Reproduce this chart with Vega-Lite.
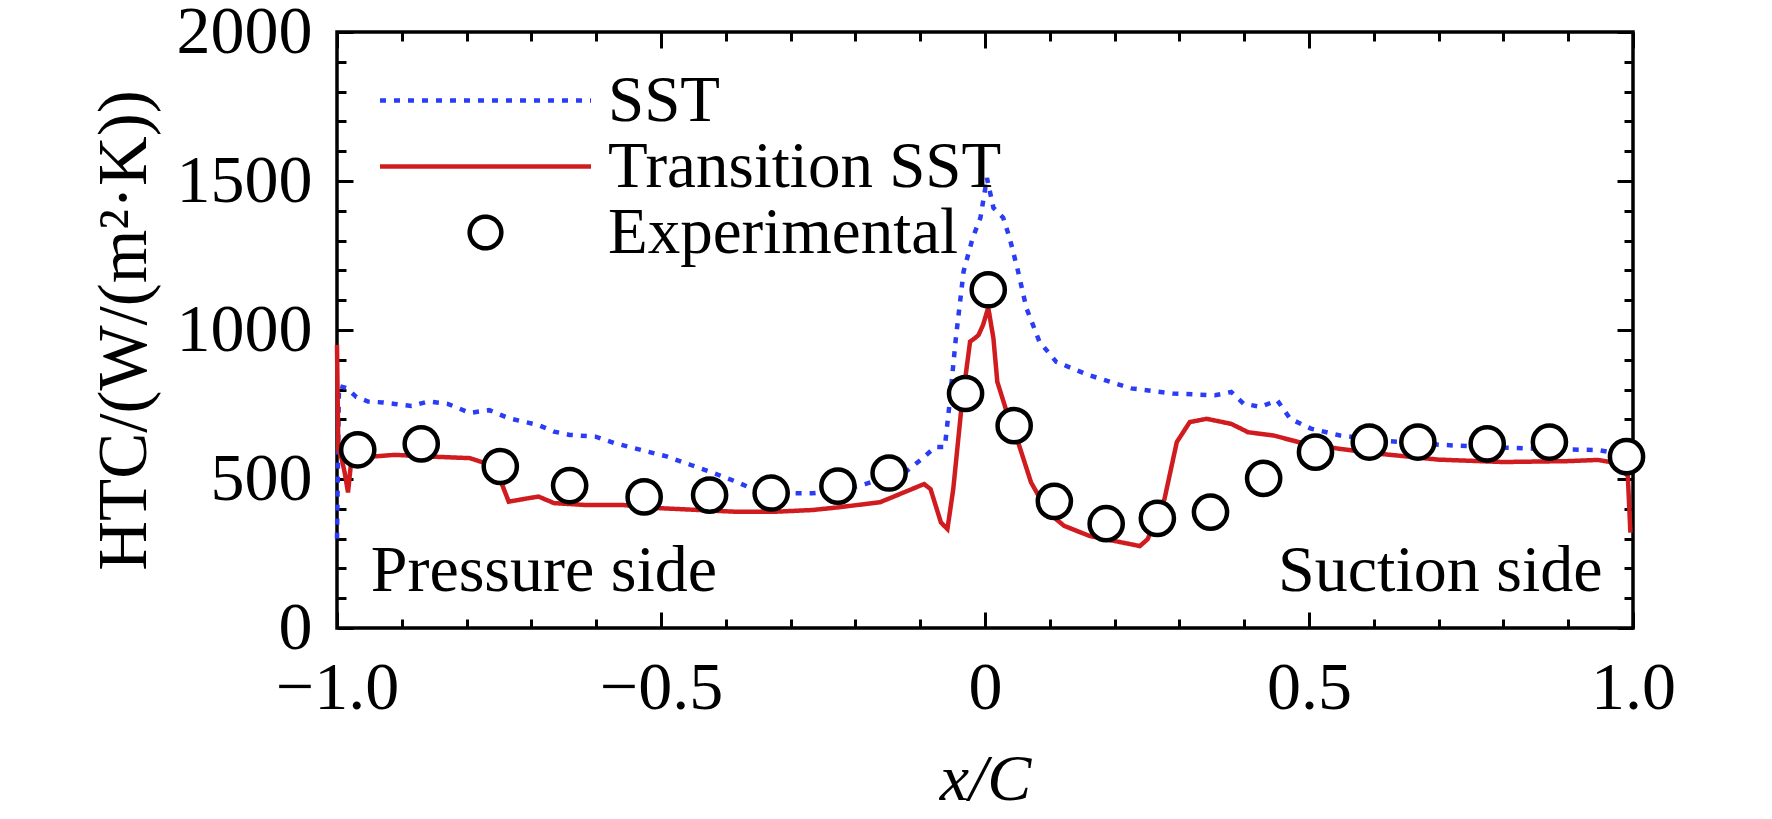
{
  "$schema": "https://vega.github.io/schema/vega-lite/v6.json",
  "width": 1296,
  "height": 596,
  "autosize": {"type": "none"},
  "padding": {"left": 337, "top": 32, "right": 139, "bottom": 191},
  "background": "white",
  "datasets": {
    "curves": [
      {"series": "SST", "xc": -1.0, "htc": 300},
      {"series": "SST", "xc": -0.997, "htc": 812},
      {"series": "SST", "xc": -0.985, "htc": 805},
      {"series": "SST", "xc": -0.97, "htc": 775},
      {"series": "SST", "xc": -0.952, "htc": 760},
      {"series": "SST", "xc": -0.93, "htc": 757},
      {"series": "SST", "xc": -0.911, "htc": 752},
      {"series": "SST", "xc": -0.885, "htc": 745},
      {"series": "SST", "xc": -0.859, "htc": 760},
      {"series": "SST", "xc": -0.829, "htc": 752},
      {"series": "SST", "xc": -0.795, "htc": 722},
      {"series": "SST", "xc": -0.765, "htc": 731},
      {"series": "SST", "xc": -0.735, "htc": 704},
      {"series": "SST", "xc": -0.689, "htc": 681},
      {"series": "SST", "xc": -0.665, "htc": 659},
      {"series": "SST", "xc": -0.641, "htc": 648},
      {"series": "SST", "xc": -0.601, "htc": 642},
      {"series": "SST", "xc": -0.571, "htc": 620},
      {"series": "SST", "xc": -0.53, "htc": 597},
      {"series": "SST", "xc": -0.49, "htc": 575},
      {"series": "SST", "xc": -0.454, "htc": 547},
      {"series": "SST", "xc": -0.425, "htc": 525},
      {"series": "SST", "xc": -0.384, "htc": 491},
      {"series": "SST", "xc": -0.355, "htc": 463},
      {"series": "SST", "xc": -0.313, "htc": 452},
      {"series": "SST", "xc": -0.266, "htc": 452},
      {"series": "SST", "xc": -0.22, "htc": 463},
      {"series": "SST", "xc": -0.185, "htc": 483},
      {"series": "SST", "xc": -0.16, "htc": 500},
      {"series": "SST", "xc": -0.13, "htc": 511},
      {"series": "SST", "xc": -0.097, "htc": 568},
      {"series": "SST", "xc": -0.077, "htc": 607},
      {"series": "SST", "xc": -0.062, "htc": 607},
      {"series": "SST", "xc": -0.055, "htc": 747},
      {"series": "SST", "xc": -0.045, "htc": 972},
      {"series": "SST", "xc": -0.033, "htc": 1197},
      {"series": "SST", "xc": -0.019, "htc": 1309},
      {"series": "SST", "xc": -0.007, "htc": 1377},
      {"series": "SST", "xc": 0.003, "htc": 1510},
      {"series": "SST", "xc": 0.013, "htc": 1410},
      {"series": "SST", "xc": 0.028, "htc": 1377},
      {"series": "SST", "xc": 0.038, "htc": 1309},
      {"series": "SST", "xc": 0.051, "htc": 1197},
      {"series": "SST", "xc": 0.064, "htc": 1073},
      {"series": "SST", "xc": 0.084, "htc": 961},
      {"series": "SST", "xc": 0.11, "htc": 893},
      {"series": "SST", "xc": 0.161, "htc": 848},
      {"series": "SST", "xc": 0.226, "htc": 804},
      {"series": "SST", "xc": 0.29, "htc": 787},
      {"series": "SST", "xc": 0.355, "htc": 781},
      {"series": "SST", "xc": 0.38, "htc": 792},
      {"series": "SST", "xc": 0.399, "htc": 753},
      {"series": "SST", "xc": 0.425, "htc": 742},
      {"series": "SST", "xc": 0.451, "htc": 764},
      {"series": "SST", "xc": 0.471, "htc": 702},
      {"series": "SST", "xc": 0.503, "htc": 669},
      {"series": "SST", "xc": 0.548, "htc": 646},
      {"series": "SST", "xc": 0.612, "htc": 629},
      {"series": "SST", "xc": 0.7, "htc": 615},
      {"series": "SST", "xc": 0.8, "htc": 605},
      {"series": "SST", "xc": 0.9, "htc": 599},
      {"series": "SST", "xc": 0.946, "htc": 597},
      {"series": "SST", "xc": 0.99, "htc": 581},
      {"series": "Transition SST", "xc": -1.0, "htc": 950},
      {"series": "Transition SST", "xc": -0.998, "htc": 600},
      {"series": "Transition SST", "xc": -0.993, "htc": 570},
      {"series": "Transition SST", "xc": -0.988, "htc": 520},
      {"series": "Transition SST", "xc": -0.983, "htc": 455},
      {"series": "Transition SST", "xc": -0.979, "htc": 540},
      {"series": "Transition SST", "xc": -0.975, "htc": 575},
      {"series": "Transition SST", "xc": -0.947, "htc": 575},
      {"series": "Transition SST", "xc": -0.911, "htc": 581},
      {"series": "Transition SST", "xc": -0.853, "htc": 575},
      {"series": "Transition SST", "xc": -0.795, "htc": 570},
      {"series": "Transition SST", "xc": -0.771, "htc": 553},
      {"series": "Transition SST", "xc": -0.75, "htc": 508},
      {"series": "Transition SST", "xc": -0.735, "htc": 424},
      {"series": "Transition SST", "xc": -0.706, "htc": 435},
      {"series": "Transition SST", "xc": -0.689, "htc": 441},
      {"series": "Transition SST", "xc": -0.665, "htc": 419},
      {"series": "Transition SST", "xc": -0.618, "htc": 413},
      {"series": "Transition SST", "xc": -0.56, "htc": 413},
      {"series": "Transition SST", "xc": -0.501, "htc": 402},
      {"series": "Transition SST", "xc": -0.442, "htc": 396},
      {"series": "Transition SST", "xc": -0.384, "htc": 390},
      {"series": "Transition SST", "xc": -0.325, "htc": 390},
      {"series": "Transition SST", "xc": -0.266, "htc": 396},
      {"series": "Transition SST", "xc": -0.226, "htc": 405},
      {"series": "Transition SST", "xc": -0.162, "htc": 422},
      {"series": "Transition SST", "xc": -0.094, "htc": 483},
      {"series": "Transition SST", "xc": -0.084, "htc": 466},
      {"series": "Transition SST", "xc": -0.068, "htc": 354},
      {"series": "Transition SST", "xc": -0.058, "htc": 332},
      {"series": "Transition SST", "xc": -0.049, "htc": 466},
      {"series": "Transition SST", "xc": -0.036, "htc": 747},
      {"series": "Transition SST", "xc": -0.023, "htc": 961},
      {"series": "Transition SST", "xc": -0.016, "htc": 972},
      {"series": "Transition SST", "xc": -0.01, "htc": 983},
      {"series": "Transition SST", "xc": -0.003, "htc": 1017},
      {"series": "Transition SST", "xc": 0.005, "htc": 1075},
      {"series": "Transition SST", "xc": 0.013, "htc": 972},
      {"series": "Transition SST", "xc": 0.019, "htc": 826},
      {"series": "Transition SST", "xc": 0.032, "htc": 736},
      {"series": "Transition SST", "xc": 0.051, "htc": 624},
      {"series": "Transition SST", "xc": 0.071, "htc": 489},
      {"series": "Transition SST", "xc": 0.097, "htc": 388},
      {"series": "Transition SST", "xc": 0.122, "htc": 343},
      {"series": "Transition SST", "xc": 0.161, "htc": 309},
      {"series": "Transition SST", "xc": 0.2, "htc": 292},
      {"series": "Transition SST", "xc": 0.239, "htc": 275},
      {"series": "Transition SST", "xc": 0.251, "htc": 298},
      {"series": "Transition SST", "xc": 0.277, "htc": 433},
      {"series": "Transition SST", "xc": 0.296, "htc": 624},
      {"series": "Transition SST", "xc": 0.316, "htc": 691},
      {"series": "Transition SST", "xc": 0.342, "htc": 702},
      {"series": "Transition SST", "xc": 0.38, "htc": 685},
      {"series": "Transition SST", "xc": 0.406, "htc": 657},
      {"series": "Transition SST", "xc": 0.445, "htc": 646},
      {"series": "Transition SST", "xc": 0.484, "htc": 624},
      {"series": "Transition SST", "xc": 0.548, "htc": 601},
      {"series": "Transition SST", "xc": 0.612, "htc": 584},
      {"series": "Transition SST", "xc": 0.7, "htc": 565},
      {"series": "Transition SST", "xc": 0.8, "htc": 557},
      {"series": "Transition SST", "xc": 0.9, "htc": 560},
      {"series": "Transition SST", "xc": 0.946, "htc": 564},
      {"series": "Transition SST", "xc": 0.97, "htc": 555},
      {"series": "Transition SST", "xc": 0.992, "htc": 511},
      {"series": "Transition SST", "xc": 0.996, "htc": 320}
    ],
    "experiment": [
      {"xc": -0.968, "htc": 598},
      {"xc": -0.87, "htc": 618},
      {"xc": -0.748, "htc": 542},
      {"xc": -0.641, "htc": 478},
      {"xc": -0.526, "htc": 440},
      {"xc": -0.425, "htc": 446},
      {"xc": -0.33, "htc": 453},
      {"xc": -0.227, "htc": 476},
      {"xc": -0.148, "htc": 520},
      {"xc": -0.03, "htc": 787},
      {"xc": 0.005, "htc": 1135},
      {"xc": 0.045, "htc": 679},
      {"xc": 0.107, "htc": 425},
      {"xc": 0.187, "htc": 350},
      {"xc": 0.266, "htc": 368},
      {"xc": 0.348, "htc": 389},
      {"xc": 0.43, "htc": 502},
      {"xc": 0.51, "htc": 590},
      {"xc": 0.593, "htc": 624},
      {"xc": 0.668, "htc": 624},
      {"xc": 0.775, "htc": 618},
      {"xc": 0.871, "htc": 624},
      {"xc": 0.99, "htc": 575}
    ]
  },
  "config": {
    "view": {"stroke": "black", "strokeWidth": 3.5},
    "font": "Liberation Serif",
    "axis": {
      "grid": false,
      "domain": false,
      "labelFont": "Liberation Serif",
      "titleFont": "Liberation Serif",
      "labelColor": "black",
      "titleColor": "black",
      "tickColor": "black",
      "tickWidth": 3,
      "labelFontSize": 68,
      "titleFontSize": 69,
      "titleFontWeight": "normal",
      "labelOverlap": false,
      "labelFlush": false,
      "labelBound": false
    }
  },
  "resolve": {"axis": {"x": "independent", "y": "independent"}},
  "layer": [
    {
      "data": {"name": "curves"},
      "mark": {"type": "line", "strokeWidth": 4.5},
      "encoding": {
        "x": {
          "field": "xc",
          "type": "quantitative",
          "scale": {"domain": [-1, 1]},
          "axis": {
            "orient": "bottom",
            "values": [-1, -0.9, -0.8, -0.7, -0.6, -0.5, -0.4, -0.3, -0.2, -0.1, 0, 0.1, 0.2, 0.3, 0.4, 0.5, 0.6, 0.7, 0.8, 0.9, 1],
            "labelExpr": "abs(datum.value * 2 - round(datum.value * 2)) < 0.001 ? (abs(datum.value) < 0.001 ? '0' : format(datum.value, '.1f')) : ''",
            "tickSize": {"condition": {"test": "abs(datum.value * 2 - round(datum.value * 2)) < 0.001", "value": -16}, "value": -9},
            "labelPadding": 42,
            "title": "x/C",
            "titleFontSize": 66,
            "titleFontStyle": "italic",
            "titlePadding": 18
          }
        },
        "y": {
          "field": "htc",
          "type": "quantitative",
          "scale": {"domain": [0, 2000]},
          "axis": {
            "orient": "left",
            "values": [0, 100, 200, 300, 400, 500, 600, 700, 800, 900, 1000, 1100, 1200, 1300, 1400, 1500, 1600, 1700, 1800, 1900, 2000],
            "format": "d",
            "labelExpr": "datum.value % 500 === 0 ? datum.label : ''",
            "tickSize": {"condition": {"test": "datum.value % 500 === 0", "value": -16}, "value": -9},
            "labelPadding": 41,
            "title": "HTC/(W/(m²·K))",
            "titlePadding": 17
          }
        },
        "color": {
          "field": "series",
          "type": "nominal",
          "scale": {"domain": ["SST", "Transition SST", "Experimental"], "range": ["#2a3cf5", "#d01c1f", "#000000"]},
          "legend": {
            "title": null,
            "orient": "none",
            "legendX": 116,
            "legendY": 36,
            "padding": 0,
            "labelFont": "Liberation Serif",
            "labelFontSize": 65,
            "labelColor": "black",
            "labelLimit": 800,
            "labelOffset": 90,
            "rowPadding": 0,
            "symbolType": "M-5,0H5",
            "symbolSize": 1781,
            "symbolStrokeWidth": 4.5,
            "encode": {
              "symbols": {
                "update": {
                  "shape": {"signal": "datum.value === 'Experimental' ? 'circle' : 'M-5,0H5'"},
                  "size": {"signal": "datum.value === 'Experimental' ? 1000 : 1781"},
                  "strokeDash": {"signal": "datum.value === 'SST' ? [6, 8] : [1, 0]"},
                  "fill": {"signal": "datum.value === 'Experimental' ? 'white' : 'transparent'"},
                  "strokeWidth": {"value": 4.5}
                }
              }
            }
          }
        },
        "strokeDash": {
          "field": "series",
          "type": "nominal",
          "scale": {"domain": ["SST", "Transition SST", "Experimental"], "range": [[6, 8], [1, 0], [1, 0]]},
          "legend": null
        }
      }
    },
    {
      "data": {"name": "experiment"},
      "mark": {"type": "point", "shape": "circle", "filled": true, "fill": "white", "stroke": "black", "strokeWidth": 4.5, "size": 1100, "opacity": 1},
      "encoding": {
        "x": {"field": "xc", "type": "quantitative", "axis": null},
        "y": {"field": "htc", "type": "quantitative", "axis": null}
      }
    },
    {
      "data": {"values": [{}]},
      "mark": {"type": "text", "align": "left", "baseline": "alphabetic", "font": "Liberation Serif", "fontSize": 66, "color": "black"},
      "encoding": {
        "x": {"datum": -0.948, "type": "quantitative", "axis": null},
        "y": {"datum": 124, "type": "quantitative", "axis": null},
        "text": {"value": "Pressure side"}
      }
    },
    {
      "data": {"values": [{}]},
      "mark": {"type": "text", "align": "right", "baseline": "alphabetic", "font": "Liberation Serif", "fontSize": 66, "color": "black"},
      "encoding": {
        "x": {"datum": 0.953, "type": "quantitative", "axis": null},
        "y": {"datum": 124, "type": "quantitative", "axis": null},
        "text": {"value": "Suction side"}
      }
    },
    {
      "data": {"name": "experiment"},
      "mark": {"type": "point", "opacity": 0},
      "encoding": {
        "x": {
          "field": "xc",
          "type": "quantitative",
          "axis": {
            "orient": "top",
            "values": [-1, -0.9, -0.8, -0.7, -0.6, -0.5, -0.4, -0.3, -0.2, -0.1, 0, 0.1, 0.2, 0.3, 0.4, 0.5, 0.6, 0.7, 0.8, 0.9, 1],
            "labels": false,
            "title": null,
            "tickSize": {"condition": {"test": "abs(datum.value * 2 - round(datum.value * 2)) < 0.001", "value": -16}, "value": -9}
          }
        },
        "y": {
          "field": "htc",
          "type": "quantitative",
          "axis": {
            "orient": "right",
            "values": [0, 100, 200, 300, 400, 500, 600, 700, 800, 900, 1000, 1100, 1200, 1300, 1400, 1500, 1600, 1700, 1800, 1900, 2000],
            "labels": false,
            "title": null,
            "tickSize": {"condition": {"test": "datum.value % 500 === 0", "value": -16}, "value": -9}
          }
        }
      }
    }
  ]
}
